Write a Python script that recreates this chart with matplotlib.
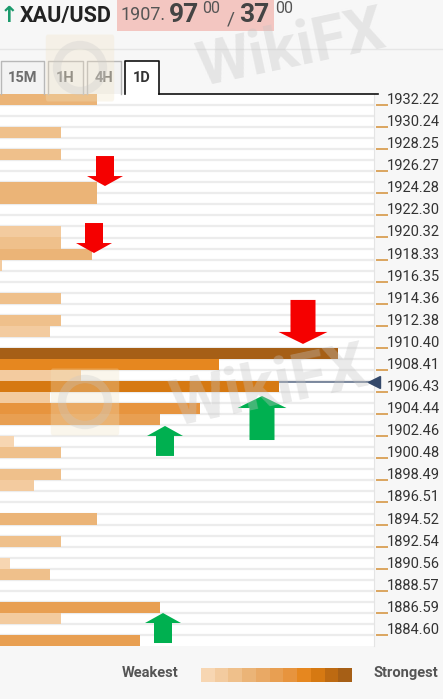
import matplotlib.pyplot as plt
import matplotlib.patches as mpatches
import matplotlib.transforms as mtransforms
from matplotlib.lines import Line2D

plt.rcParams['font.family'] = ['Roboto', 'DejaVu Sans']

# confluence levels (row centres), bar length and colour shade (0 weakest .. 10 strongest)
levels = [1932.71, 1929.74, 1927.75, 1924.78, 1923.79, 1920.81, 1919.82, 1918.83,
          1917.83, 1914.86, 1912.87, 1911.88, 1909.90, 1908.90, 1907.91, 1906.92,
          1905.93, 1904.94, 1903.94, 1901.96, 1900.97, 1898.98, 1897.99, 1895.02,
          1893.03, 1891.05, 1890.06, 1887.08, 1886.09, 1884.10]
strength = [97, 61, 61, 97, 97, 61, 61, 92, 2, 61, 61, 50, 338, 219, 81, 279,
            50, 200, 160, 14, 61, 61, 34, 97, 61, 10, 50, 160, 61, 140]
shade = [3, 2, 2, 3, 3, 1, 2, 3, 1, 2, 2, 1, 10, 7, 1, 8,
         1, 6, 5, 0, 2, 2, 1, 3, 2, 0, 2, 5, 1, 5]

tick_labels = ['1932.22', '1930.24', '1928.25', '1926.27', '1924.28', '1922.30',
               '1920.32', '1918.33', '1916.35', '1914.36', '1912.38', '1910.40',
               '1908.41', '1906.43', '1904.44', '1902.46', '1900.48', '1898.49',
               '1896.51', '1894.52', '1892.54', '1890.56', '1888.57', '1886.59',
               '1884.60']
current_price = 1907.37

# arrows: x position, price at arrow tip, direction, big or small
arrow_x = [105, 94, 303, 165, 262, 163]
arrow_price = [1924.94, 1918.92, 1910.75, 1903.38, 1906.07, 1886.57]
arrow_dir = ['down', 'down', 'down', 'up', 'up', 'up']
arrow_big = [False, False, True, False, True, False]

tabs = ['15M', '1H', '4H', '1D']

palette = ['#f7d6b2', '#f3cb9f', '#efc08b', '#ebb477', '#e9a965', '#e89f52',
           '#e7943e', '#e6871f', '#d67912', '#bd6a12', '#a65f16']

W, H = 443, 699
top = 1933.21
step = 0.99208
bottom = top - 50 * step


def fx(x):
    return x / W


def fy(y):
    return 1 - y / H


fig = plt.figure(figsize=(W / 100, H / 100), dpi=100)
fig.patch.set_facecolor('#f7f7f7')

ax = fig.add_axes([0, fy(646), fx(374), (646 - 94) / H])
ax.set_facecolor('white')
ax.set_xlim(0, 374)
ax.set_ylim(bottom, top)

# row stripes
for k in range(1, 50):
    ax.axhline(top - k * step, color='#ececec', lw=1.6, zorder=0)

ax.axhline(current_price, color='#5a6a86', lw=1.1, zorder=1)
ax.barh(levels, strength, height=step, color=[palette[s] for s in shade],
        linewidth=0, zorder=2)
ax.plot([374], [current_price], marker='<', ms=8, color='#34496b',
        clip_on=False, zorder=5)

for sp in ['top', 'left', 'bottom']:
    ax.spines[sp].set_visible(False)
ax.spines['right'].set_color('#e4e4e4')
ax.set_xticks([])
ax.set_yticks([])

# right hand price scale
tick_vals = [float(t) for t in tick_labels]
blend = mtransforms.blended_transform_factory(ax.transAxes, ax.transData)
ax.plot([1] * len(tick_vals), tick_vals, ls='none', marker='_', ms=8, mew=1.4,
        color='#dba55f', clip_on=False,
        transform=mtransforms.offset_copy(blend, fig=fig, x=8, y=0, units='dots'))
lab_tr = mtransforms.offset_copy(blend, fig=fig, x=13, y=5, units='dots')
for v, t in zip(tick_vals, tick_labels):
    ax.text(1, v, t, transform=lab_tr, ha='left', va='center', fontsize=10.5,
            color='#333333', clip_on=False)

# block arrows


def block_arrow(x, y, direction, big, color):
    if big:
        hw, hl, sw, L = 49, 12, 25, 44
    else:
        hw, hl, sw, L = 36, 10, 18, 30
    s = 1 if direction == 'down' else -1
    pts = [(0, 0), (-hw / 2, s * hl), (-sw / 2, s * hl), (-sw / 2, s * L),
           (sw / 2, s * L), (sw / 2, s * hl), (hw / 2, s * hl)]
    pts = [(a / 100, b / 100) for a, b in pts]
    tr = fig.dpi_scale_trans + mtransforms.ScaledTranslation(x, y, ax.transData)
    ax.add_patch(mpatches.Polygon(pts, closed=True, transform=tr, color=color,
                                  lw=0, zorder=6, clip_on=False))


for x, p, d, b in zip(arrow_x, arrow_price, arrow_dir, arrow_big):
    block_arrow(x, p, d, b, '#f50000' if d == 'down' else '#00b050')

# header
fig.add_artist(Line2D([0, 1], [fy(49), fy(49)], transform=fig.transFigure,
                      color='#e6e6e6', lw=1))
fig.text(fx(0), fy(22), '\u2191', fontsize=16, weight='bold', color='#1b9a6c',
         va='baseline', family=['DejaVu Sans'])
fig.text(fx(20), fy(22), 'XAU/USD', fontsize=15.5, weight='bold', color='#222222',
         va='baseline')
fig.add_artist(mpatches.Rectangle((fx(117), fy(31)), fx(157), 31 / H,
                                  transform=fig.transFigure, color='#f3c6c1', lw=0))
fig.text(fx(121), fy(20), '1907.', fontsize=13, color='#555555', va='baseline')
fig.text(fx(169), fy(22), '97', fontsize=19, weight='bold', color='#444444',
         va='baseline')
fig.text(fx(202), fy(13), '00', fontsize=11.5, color='#555555', va='baseline')
fig.text(fx(227), fy(24), '/', fontsize=14, color='#555555', va='baseline')
fig.text(fx(239), fy(22), '37', fontsize=19, weight='bold', color='#444444',
         va='baseline')
fig.text(fx(275), fy(13), '00', fontsize=11.5, color='#555555', va='baseline')

# timeframe tabs
tab_x = [(1, 44), (48, 83), (87, 121), (125, 159)]
for (x0, x1), name in zip(tab_x, tabs):
    active = name == '1D'
    fig.add_artist(mpatches.Rectangle((fx(x0), fy(94)), fx(x1 - x0), 33 / H,
                                      transform=fig.transFigure, lw=0,
                                      color='white' if active else '#f3f3f3'))
    fig.add_artist(Line2D([fx(x0), fx(x0), fx(x1), fx(x1)],
                          [fy(94), fy(61), fy(61), fy(94)],
                          transform=fig.transFigure, lw=1.2 if active else 1,
                          color='#111111' if active else '#b8b8b8'))
    fig.text(fx((x0 + x1) / 2), fy(78), name, ha='center', va='center',
             fontsize=10.5, weight='bold',
             color='#333333' if active else '#6e6e6e')
fig.add_artist(Line2D([fx(159), fx(378)], [fy(94), fy(94)],
                      transform=fig.transFigure, lw=1.2, color='#111111'))

# watermark
for cx, cy, fs in [(292, 50, 44), (270, 388, 46)]:
    fig.text(fx(cx), fy(cy), 'WikiFX', fontsize=fs, weight='bold', color='#c4c4c4',
             alpha=0.35, rotation=12, ha='center', va='center', zorder=10)
for cx, cy in [(80, 68), (85, 402)]:
    fig.add_artist(mpatches.FancyBboxPatch((fx(cx - 32), fy(cy + 30)), fx(64), 60 / H,
                                           boxstyle='round,pad=0.005',
                                           transform=fig.transFigure,
                                           color='#f1e3c2', alpha=0.3, lw=0, zorder=9))
    fig.add_artist(mpatches.Ellipse((fx(cx), fy(cy)), fx(46), 46 / H,
                                    transform=fig.transFigure, fill=False,
                                    ec='#c8c8c8', lw=6, alpha=0.3, zorder=10))

# strength legend
fig.text(fx(122), fy(673), 'Weakest', fontsize=10.5, weight='bold', color='#555555',
         va='center')
fig.text(fx(374), fy(673), 'Strongest', fontsize=10.5, weight='bold', color='#555555',
         va='center')
cw = (352 - 201) / len(palette)
for i, c in enumerate(palette):
    fig.add_artist(mpatches.Rectangle((fx(201 + i * cw), fy(682)), fx(cw + 0.3), 14 / H,
                                      transform=fig.transFigure, color=c, lw=0))

fig.savefig('out.png', dpi=100, facecolor=fig.get_facecolor())
